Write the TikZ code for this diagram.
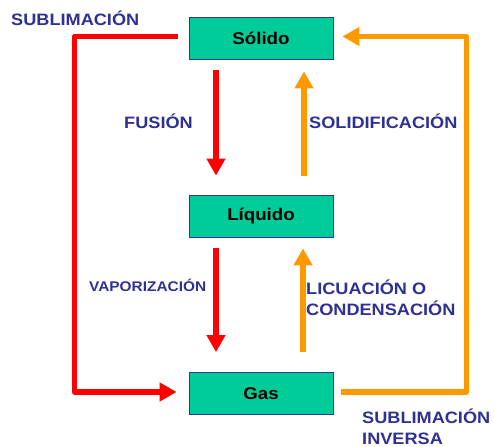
\documentclass[tikz,border=0pt]{standalone}
\usepackage{fontspec}
\setmainfont{Liberation Sans}[FakeStretch=1.1]
\usetikzlibrary{arrows.meta}
\definecolor{boxfill}{RGB}{0,204,153}
\definecolor{boxline}{RGB}{51,51,153}
\definecolor{lbl}{RGB}{46,49,146}
\definecolor{redc}{RGB}{255,0,0}
\definecolor{orangec}{RGB}{255,153,0}
\tikzset{
  statebox/.style={draw=boxline, line width=0.8pt, fill=boxfill, minimum width=144pt, minimum height=42pt, inner sep=0pt, font=\fontsize{17}{20}\selectfont\bfseries, text=black},
  lab/.style={anchor=base west, inner sep=0pt, font=\fontsize{16.5}{21}\selectfont\bfseries, text=lbl, align=left},
  redarrow/.style={draw=redc, line width=5.5pt, line join=round, -{Triangle[width=18pt,length=17pt]}},
  orangearrow/.style={draw=orangec, line width=5.5pt, line join=round, -{Triangle[width=18pt,length=17pt]}}
}
\begin{document}
\begin{tikzpicture}[x=1pt,y=-1pt]
\useasboundingbox (0,0) rectangle (494,446);
\node[statebox] (s) at (261,38) {Sólido};
\node[statebox] (l) at (261,216) {Líquido};
\node[statebox] (g) at (261,393.5) {Gas};
% transitions
\draw[redarrow] ([xshift=-11pt,yshift=1.5pt]s.west) -- ++(-103,0) |- ([xshift=-12pt,yshift=1.5pt]g.west);
\draw[redarrow] ([xshift=-45pt,yshift=-11pt]s.south) -- ([xshift=-45pt,yshift=19pt]l.north);
\draw[orangearrow] ([xshift=43pt,yshift=19pt]l.north) -- ([xshift=43pt,yshift=-12pt]s.south);
\draw[redarrow] ([xshift=-45pt,yshift=-11pt]l.south) -- ([xshift=-45pt,yshift=20pt]g.north);
\draw[orangearrow] ([xshift=42pt,yshift=20pt]g.north) -- ([xshift=42pt,yshift=-11pt]l.south);
\draw[orangearrow] ([xshift=8pt,yshift=1.5pt]g.east) -- ++(125,0) |- ([xshift=9pt,yshift=1.5pt]s.east);
% labels
\node[lab] (t1) at (11,26) {SUBLIMACIÓN};
\node[lab] (t2) at (124,128.3) {FUSIÓN};
\node[lab] (t3) at (309,128.3) {SOLIDIFICACIÓN};
\node[lab, font=\fontsize{14}{17}\selectfont\bfseries] (t4) at (89,291) {VAPORIZACIÓN};
\node[lab] (t5) at (306,315.5) {LICUACIÓN O\\CONDENSACIÓN};
\node[lab] (t6) at (362,444) {SUBLIMACIÓN\\INVERSA};
\end{tikzpicture}
\end{document}
